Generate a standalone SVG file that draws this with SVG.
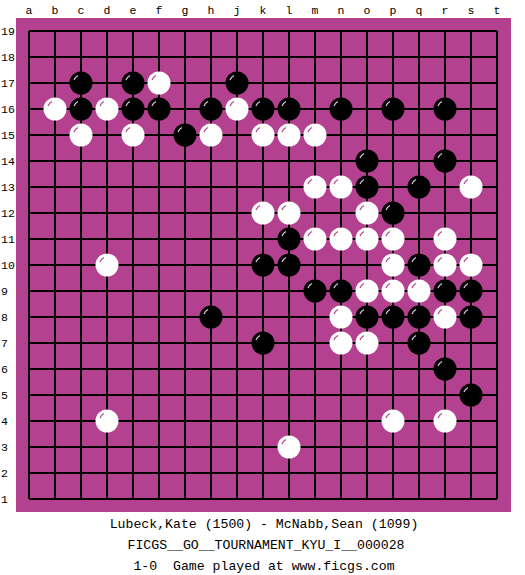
<svg xmlns="http://www.w3.org/2000/svg" xmlns:xlink="http://www.w3.org/1999/xlink" width="525" height="575" viewBox="0 0 525 575">
<style>
.lbl{font-family:"Liberation Mono","DejaVu Sans Mono",monospace;font-size:11.5px;fill:#000}
.col{text-anchor:middle}
.info{font-family:"Liberation Mono","DejaVu Sans Mono",monospace;font-size:13.2px;fill:#000;text-anchor:middle;white-space:pre}
.grid{stroke:#000;stroke-width:2;fill:none}
</style>
<defs>
<g id="bs"><circle r="11.5" fill="#000"/><path d="M-7,-3 A8 8 0 0 1 -3,-7.5" stroke="#e0c8e0" stroke-width="1.2" fill="none"/></g>
<g id="ws"><circle r="11.5" fill="#fff"/><path d="M-7,-3 A8 8 0 0 1 -3,-7.5" stroke="#b4418f" stroke-width="1.2" fill="none"/></g>
</defs>
<rect width="525" height="575" fill="#fff"/>
<rect x="16" y="18" width="495" height="494" fill="#b4418f"/>
<g id="grid" class="grid">
<path d="M29,31H497M29,57H497M29,83H497M29,109H497M29,135H497M29,161H497M29,187H497M29,213H497M29,239H497M29,265H497M29,291H497M29,317H497M29,343H497M29,369H497M29,395H497M29,421H497M29,447H497M29,473H497M29,499H497"/>
<path d="M29,31V499M55,31V499M81,31V499M107,31V499M133,31V499M159,31V499M185,31V499M211,31V499M237,31V499M263,31V499M289,31V499M315,31V499M341,31V499M367,31V499M393,31V499M419,31V499M445,31V499M471,31V499M497,31V499"/>
</g>
<g id="col-labels" class="lbl col">
<text x="29" y="14">a</text><text x="55" y="14">b</text><text x="81" y="14">c</text><text x="107" y="14">d</text><text x="133" y="14">e</text><text x="159" y="14">f</text><text x="185" y="14">g</text><text x="211" y="14">h</text><text x="237" y="14">j</text><text x="263" y="14">k</text><text x="289" y="14">l</text><text x="315" y="14">m</text><text x="341" y="14">n</text><text x="367" y="14">o</text><text x="393" y="14">p</text><text x="419" y="14">q</text><text x="445" y="14">r</text><text x="471" y="14">s</text><text x="497" y="14">t</text>
</g>
<g id="row-labels" class="lbl">
<text x="1" y="35">19</text><text x="1" y="61">18</text><text x="1" y="87">17</text><text x="1" y="113">16</text><text x="1" y="139">15</text><text x="1" y="165">14</text><text x="1" y="191">13</text><text x="1" y="217">12</text><text x="1" y="243">11</text><text x="1" y="269">10</text><text x="1" y="295">9</text><text x="1" y="321">8</text><text x="1" y="347">7</text><text x="1" y="373">6</text><text x="1" y="399">5</text><text x="1" y="425">4</text><text x="1" y="451">3</text><text x="1" y="477">2</text><text x="1" y="503">1</text>
</g>
<g id="stones">
<use id="c17" href="#bs" x="81" y="83"/>
<use id="e17" href="#bs" x="133" y="83"/>
<use id="f17" href="#ws" x="159" y="83"/>
<use id="j17" href="#bs" x="237" y="83"/>
<use id="b16" href="#ws" x="55" y="109"/>
<use id="c16" href="#bs" x="81" y="109"/>
<use id="d16" href="#ws" x="107" y="109"/>
<use id="e16" href="#bs" x="133" y="109"/>
<use id="f16" href="#bs" x="159" y="109"/>
<use id="h16" href="#bs" x="211" y="109"/>
<use id="j16" href="#ws" x="237" y="109"/>
<use id="k16" href="#bs" x="263" y="109"/>
<use id="l16" href="#bs" x="289" y="109"/>
<use id="n16" href="#bs" x="341" y="109"/>
<use id="p16" href="#bs" x="393" y="109"/>
<use id="r16" href="#bs" x="445" y="109"/>
<use id="c15" href="#ws" x="81" y="135"/>
<use id="e15" href="#ws" x="133" y="135"/>
<use id="g15" href="#bs" x="185" y="135"/>
<use id="h15" href="#ws" x="211" y="135"/>
<use id="k15" href="#ws" x="263" y="135"/>
<use id="l15" href="#ws" x="289" y="135"/>
<use id="m15" href="#ws" x="315" y="135"/>
<use id="o14" href="#bs" x="367" y="161"/>
<use id="r14" href="#bs" x="445" y="161"/>
<use id="m13" href="#ws" x="315" y="187"/>
<use id="n13" href="#ws" x="341" y="187"/>
<use id="o13" href="#bs" x="367" y="187"/>
<use id="q13" href="#bs" x="419" y="187"/>
<use id="s13" href="#ws" x="471" y="187"/>
<use id="k12" href="#ws" x="263" y="213"/>
<use id="l12" href="#ws" x="289" y="213"/>
<use id="o12" href="#ws" x="367" y="213"/>
<use id="p12" href="#bs" x="393" y="213"/>
<use id="l11" href="#bs" x="289" y="239"/>
<use id="m11" href="#ws" x="315" y="239"/>
<use id="n11" href="#ws" x="341" y="239"/>
<use id="o11" href="#ws" x="367" y="239"/>
<use id="p11" href="#ws" x="393" y="239"/>
<use id="r11" href="#ws" x="445" y="239"/>
<use id="d10" href="#ws" x="107" y="265"/>
<use id="k10" href="#bs" x="263" y="265"/>
<use id="l10" href="#bs" x="289" y="265"/>
<use id="p10" href="#ws" x="393" y="265"/>
<use id="q10" href="#bs" x="419" y="265"/>
<use id="r10" href="#ws" x="445" y="265"/>
<use id="s10" href="#ws" x="471" y="265"/>
<use id="m9" href="#bs" x="315" y="291"/>
<use id="n9" href="#bs" x="341" y="291"/>
<use id="o9" href="#ws" x="367" y="291"/>
<use id="p9" href="#ws" x="393" y="291"/>
<use id="q9" href="#ws" x="419" y="291"/>
<use id="r9" href="#bs" x="445" y="291"/>
<use id="s9" href="#bs" x="471" y="291"/>
<use id="h8" href="#bs" x="211" y="317"/>
<use id="n8" href="#ws" x="341" y="317"/>
<use id="o8" href="#bs" x="367" y="317"/>
<use id="p8" href="#bs" x="393" y="317"/>
<use id="q8" href="#bs" x="419" y="317"/>
<use id="r8" href="#ws" x="445" y="317"/>
<use id="s8" href="#bs" x="471" y="317"/>
<use id="k7" href="#bs" x="263" y="343"/>
<use id="n7" href="#ws" x="341" y="343"/>
<use id="o7" href="#ws" x="367" y="343"/>
<use id="q7" href="#bs" x="419" y="343"/>
<use id="r6" href="#bs" x="445" y="369"/>
<use id="s5" href="#bs" x="471" y="395"/>
<use id="d4" href="#ws" x="107" y="421"/>
<use id="p4" href="#ws" x="393" y="421"/>
<use id="r4" href="#ws" x="445" y="421"/>
<use id="l3" href="#ws" x="289" y="447"/>
</g>
<g id="info" class="info">
<text x="264" y="528">Lubeck,Kate (1500) - McNabb,Sean (1099)</text>
<text x="266" y="549">FICGS__GO__TOURNAMENT_KYU_I__000028</text>
<text x="264" y="570" xml:space="preserve">1-0  Game played at www.ficgs.com</text>
</g>
</svg>
